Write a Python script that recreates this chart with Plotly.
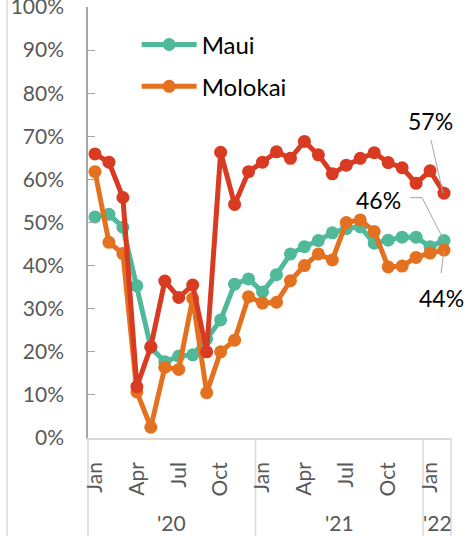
import plotly.graph_objects as go

months = ["Jan", "Feb", "Mar", "Apr", "May", "Jun", "Jul", "Aug", "Sep", "Oct", "Nov", "Dec"] * 2 + ["Jan", "Feb"]
years = ["'20", "'21", "'22"]
tick_months = ["Jan", "Apr", "Jul", "Oct", "Jan", "Apr", "Jul", "Oct", "Jan"]

red_vals = [65.9, 64.0, 55.8, 11.9, 21.2, 36.4, 32.6, 35.5, 20.0, 66.3, 54.2, 61.8,
            64.0, 66.4, 64.9, 68.8, 65.7, 61.3, 63.3, 64.9, 66.2, 63.9, 62.7, 59.1,
            62.0, 56.8]
maui = [51.3, 51.9, 48.9, 35.3, 21.0, 17.7, 19.0, 19.3, 23.0, 27.4, 35.7, 36.9,
        33.9, 37.9, 42.7, 44.4, 45.8, 47.6, 48.6, 49.0, 45.2, 45.9, 46.6, 46.6,
        44.4, 45.8]
molokai = [61.8, 45.4, 42.8, 10.7, 2.5, 16.4, 15.9, 32.4, 10.5, 20.0, 22.7, 32.8,
           31.3, 31.5, 36.5, 40.0, 42.7, 41.3, 50.0, 50.6, 47.9, 39.7, 39.9, 41.9,
           42.9, 43.6]

x = list(range(len(months)))
TEAL = "#50B99A"
ORANGE = "#E4711F"
RED = "#D93A22"
FONT = "Lato"
GRAY = "#595959"

fig = go.Figure()
fig.add_trace(go.Scatter(x=x, y=[v / 100 for v in maui], name="Maui", mode="lines+markers",
                         line=dict(color=TEAL, width=5), marker=dict(size=13, color=TEAL),
                         legend="legend", cliponaxis=False))
fig.add_trace(go.Scatter(x=x, y=[v / 100 for v in molokai], name="Molokai", mode="lines+markers",
                         line=dict(color=ORANGE, width=5), marker=dict(size=13, color=ORANGE),
                         legend="legend2", cliponaxis=False))
fig.add_trace(go.Scatter(x=x, y=[v / 100 for v in red_vals], name="Lanai", mode="lines+markers",
                         line=dict(color=RED, width=5), marker=dict(size=13, color=RED),
                         showlegend=False, cliponaxis=False))

last = len(x) - 1
ann_font = dict(family=FONT, size=23, color="#000000")
annotations = [
    dict(x=last, y=red_vals[-1] / 100, text=f"{round(red_vals[-1])}%", showarrow=False,
         xshift=-14, yshift=72, font=ann_font),
    dict(x=last, y=maui[-1] / 100, text=f"{round(maui[-1])}%", showarrow=False,
         xshift=-66, yshift=41, font=ann_font),
    dict(x=last, y=molokai[-1] / 100, text=f"{round(molokai[-1])}%", showarrow=False,
         xshift=-3, yshift=-48, font=ann_font),
]
year_pos = [5.5, 17.5, 24.5]
for yr, xp in zip(years, year_pos):
    annotations.append(dict(x=xp, y=-0.195, yref="paper", text=yr, showarrow=False,
                            font=dict(family=FONT, size=21, color=GRAY), yanchor="middle"))

LEAD = dict(color="#A6A6A6", width=1)
shapes = [
    # leader lines (pixel offsets anchored at last data point)
    dict(type="line", xref="x", yref="y", xsizemode="pixel", ysizemode="pixel",
         xanchor=last, yanchor=red_vals[-1] / 100, x0=-13, y0=53, x1=-1, y1=0, line=LEAD),
    dict(type="line", xref="x", yref="y", xsizemode="pixel", ysizemode="pixel",
         xanchor=last, yanchor=maui[-1] / 100, x0=-34, y0=43, x1=-22, y1=43, line=LEAD),
    dict(type="line", xref="x", yref="y", xsizemode="pixel", ysizemode="pixel",
         xanchor=last, yanchor=maui[-1] / 100, x0=-22, y0=43, x1=0, y1=0, line=LEAD),
    dict(type="line", xref="x", yref="y", xsizemode="pixel", ysizemode="pixel",
         xanchor=last, yanchor=molokai[-1] / 100, x0=-3, y0=-23, x1=0, y1=0, line=LEAD),
    # year dividers
    dict(type="line", xref="x", yref="paper", x0=11.5, x1=11.5, y0=0, y1=-0.25,
         line=dict(color="#D9D9D9", width=1.5), layer="below"),
    dict(type="line", xref="x", yref="paper", x0=23.5, x1=23.5, y0=0, y1=-0.25,
         line=dict(color="#D9D9D9", width=1.5), layer="below"),
    dict(type="line", xref="paper", yref="paper", x0=0, x1=0, y0=0, y1=-0.25,
         line=dict(color="#D9D9D9", width=1.5), layer="below"),
    dict(type="line", xref="paper", yref="paper", x0=1, x1=1, y0=0, y1=-0.25,
         line=dict(color="#D9D9D9", width=1.5), layer="below"),
    # chart area border at left
    dict(type="line", xref="paper", yref="paper", x0=-0.223, x1=-0.223, y0=-0.25, y1=1.05,
         line=dict(color="#D9D9D9", width=1.5), layer="below"),
]

fig.update_layout(
    width=470, height=536,
    margin=dict(l=88, r=19, t=7, b=98),
    paper_bgcolor="white", plot_bgcolor="white",
    font=dict(family=FONT, color=GRAY),
    showlegend=True,
    legend=dict(x=0.134, y=0.912, xanchor="left", yanchor="middle", bgcolor="rgba(0,0,0,0)",
                font=dict(family=FONT, size=24, color="#000000"), itemwidth=55),
    legend2=dict(x=0.134, y=0.815, xanchor="left", yanchor="middle", bgcolor="rgba(0,0,0,0)",
                 font=dict(family=FONT, size=24, color="#000000"), itemwidth=55),
    annotations=annotations,
    shapes=shapes,
)
fig.update_xaxes(range=[-0.5, len(x) - 0.5], tickvals=list(range(0, len(x), 3)), ticktext=tick_months,
                 tickangle=-90, showgrid=False, zeroline=False, showline=True, linecolor="#D9D9D9",
                 linewidth=1.5, ticks="", ticklabelstandoff=14, automargin=False,
                 tickfont=dict(family=FONT, size=21, color=GRAY))
fig.update_yaxes(range=[0, 1], tickvals=[i / 10 for i in range(11)], tickformat=".0%",
                 showgrid=False, zeroline=False, showline=True, linecolor="#A6A6A6", linewidth=1.5,
                 ticks="inside", ticklen=7, tickcolor="#A6A6A6", ticklabelstandoff=18, automargin=False,
                 ticklabeloverflow="allow",
                 tickfont=dict(family=FONT, size=21, color=GRAY))

fig.write_html("out.html", config={"displayModeBar": False},
               post_script="document.body.style.margin='0';document.body.style.overflow='hidden';")
